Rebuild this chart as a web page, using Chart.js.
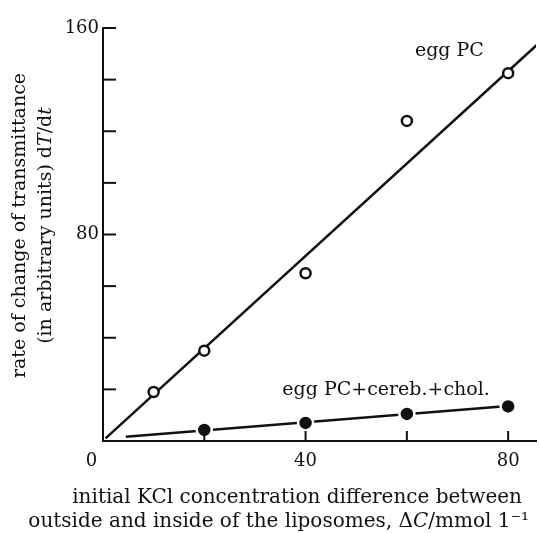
<!DOCTYPE html>
<html>
<head>
<meta charset="utf-8">
<script src="https://cdn.jsdelivr.net/npm/chart.js@4.4.1/dist/chart.umd.min.js"></script>
<style>
  html, body { margin: 0; padding: 0; background: #fff; overflow: hidden; }
  #wrap { width: 539px; height: 533px; position: relative; }
</style>
</head>
<body>
<div id="wrap"><canvas id="chart"></canvas></div>
<script>
// Data
const eggPcX = [10, 20, 40, 60, 80];
const eggPcY = [19, 35, 65, 124, 142.5];
const mixX = [20, 40, 60, 80];
const mixY = [4.3, 7.0, 10.5, 13.4];

// straight lines drawn through each series
const eggPcFitX = [0.5, 86];
const eggPcFitY = [1, 154];
const mixFitX = [4.5, 80];
const mixFitY = [1.6, 13.6];

// tick labels
const xLabelValues = [0, 40, 80];
const yLabelValues = [80, 160];

// axis titles (italic parts flagged)
const xTitleLines = [
  [{ text: 'initial KCl concentration difference between' }],
  [
    { text: 'outside and inside of the liposomes, \u0394' },
    { text: 'C', italic: true },
    { text: '/mmol 1\u207B\u00B9' },
  ],
];
const yTitleLines = [
  [{ text: 'rate of change of transmittance' }],
  [
    { text: '(in arbitrary units) d' },
    { text: 'T', italic: true },
    { text: '/d' },
    { text: 't', italic: true },
  ],
];

const seriesNames = ['egg PC', 'egg PC+cereb.+chol.'];

const ink = '#111';
const serif = '"DejaVu Serif", serif';

function toPoints(xs, ys) {
  return xs.map(function (x, i) {
    return { x: x, y: ys[i] };
  });
}

// Draw one line made of plain / italic pieces
function drawRich(ctx, parts, x, y, align, size) {
  const fonts = parts.map(function (p) {
    return (p.italic ? 'italic ' : '') + size + 'px ' + serif;
  });
  let total = 0;
  const widths = parts.map(function (p, i) {
    ctx.font = fonts[i];
    const w = ctx.measureText(p.text).width;
    total += w;
    return w;
  });
  let start = x;
  if (align === 'right') start = x - total;
  if (align === 'center') start = x - total / 2;
  ctx.textAlign = 'left';
  parts.forEach(function (p, i) {
    ctx.font = fonts[i];
    ctx.fillText(p.text, start, y);
    start += widths[i];
  });
}

Chart.defaults.font.family = serif;
Chart.defaults.color = ink;

// Inward tick marks, axis titles and the series labels inside the plot
const extrasPlugin = {
  id: 'extras',
  afterDraw(chart) {
    const ctx = chart.ctx;
    const xs = chart.scales.x;
    const ys = chart.scales.y;
    const area = chart.chartArea;
    ctx.save();
    ctx.strokeStyle = ink;
    ctx.lineWidth = 2;
    xs.ticks.forEach(function (t) {
      if (t.value <= 0) return;
      const px = xs.getPixelForValue(t.value);
      ctx.beginPath();
      ctx.moveTo(px, ys.bottom);
      ctx.lineTo(px, ys.bottom - 10);
      ctx.stroke();
    });
    ys.ticks.forEach(function (t) {
      if (t.value <= 0) return;
      const py = ys.getPixelForValue(t.value);
      ctx.beginPath();
      ctx.moveTo(xs.left, py);
      ctx.lineTo(xs.left + 13, py);
      ctx.stroke();
    });

    ctx.fillStyle = ink;
    ctx.textBaseline = 'alphabetic';
    ctx.font = '19px ' + serif;
    ctx.textAlign = 'center';
    ctx.fillText(seriesNames[0], xs.getPixelForValue(68.4), ys.getPixelForValue(149));
    ctx.fillText(seriesNames[1], xs.getPixelForValue(55.9), ys.getPixelForValue(17.8));

    // x title, right aligned under the axis
    ctx.textBaseline = 'middle';
    drawRich(ctx, xTitleLines[0], area.right - 14, area.bottom + 57, 'right', 20);
    drawRich(ctx, xTitleLines[1], area.right - 7, area.bottom + 81, 'right', 20);

    // y title, rotated
    ctx.save();
    ctx.translate(0, (area.top + area.bottom) / 2 - 9);
    ctx.rotate(-Math.PI / 2);
    drawRich(ctx, yTitleLines[0], 0, 20, 'center', 19);
    drawRich(ctx, yTitleLines[1], 0, 46, 'center', 19);
    ctx.restore();

    ctx.restore();
  },
};

const ctx = document.getElementById('chart');

new Chart(ctx, {
  type: 'scatter',
  data: {
    datasets: [
      {
        label: seriesNames[0],
        data: toPoints(eggPcX, eggPcY),
        showLine: false,
        pointRadius: 5,
        pointBorderWidth: 2.5,
        pointBorderColor: ink,
        pointBackgroundColor: '#fff',
      },
      {
        label: seriesNames[1],
        data: toPoints(mixX, mixY),
        showLine: false,
        pointRadius: 7.5,
        pointBorderWidth: 2.5,
        pointBorderColor: '#fff',
        pointBackgroundColor: ink,
      },
      {
        label: 'egg PC fit',
        data: toPoints(eggPcFitX, eggPcFitY),
        showLine: true,
        borderColor: ink,
        borderWidth: 2.5,
        pointRadius: 0,
      },
      {
        label: 'mix fit',
        data: toPoints(mixFitX, mixFitY),
        showLine: true,
        borderColor: ink,
        borderWidth: 2.5,
        pointRadius: 0,
      },
    ],
  },
  options: {
    responsive: true,
    maintainAspectRatio: false,
    animation: false,
    layout: {
      autoPadding: false,
      padding: { top: 28, right: 3, left: 0, bottom: 0 },
    },
    plugins: {
      legend: { display: false },
      tooltip: { enabled: false },
    },
    scales: {
      x: {
        type: 'linear',
        min: 0,
        max: 85.5,
        border: { display: true, color: ink, width: 2 },
        grid: { display: false, drawTicks: false },
        ticks: {
          stepSize: 20,
          includeBounds: false,
          autoSkip: false,
          maxRotation: 0,
          padding: 10,
          font: { size: 18 },
          callback: function (value) {
            if (!xLabelValues.includes(value)) return '';
            return value === 0 ? '0    ' : String(value);
          },
        },
        afterFit: function (scale) {
          scale.height = 92;
          scale.paddingLeft = 0;
          scale.paddingRight = 0;
        },
      },
      y: {
        type: 'linear',
        min: 0,
        max: 160,
        border: { display: true, color: ink, width: 2 },
        grid: { display: false, drawTicks: false },
        ticks: {
          stepSize: 20,
          autoSkip: false,
          padding: 4,
          font: { size: 18 },
          callback: function (value) {
            return yLabelValues.includes(value) ? String(value) : '';
          },
        },
        afterFit: function (scale) {
          scale.width = 103;
          scale.paddingTop = 0;
          scale.paddingBottom = 0;
        },
      },
    },
  },
  plugins: [extrasPlugin],
});
</script>
</body>
</html>
